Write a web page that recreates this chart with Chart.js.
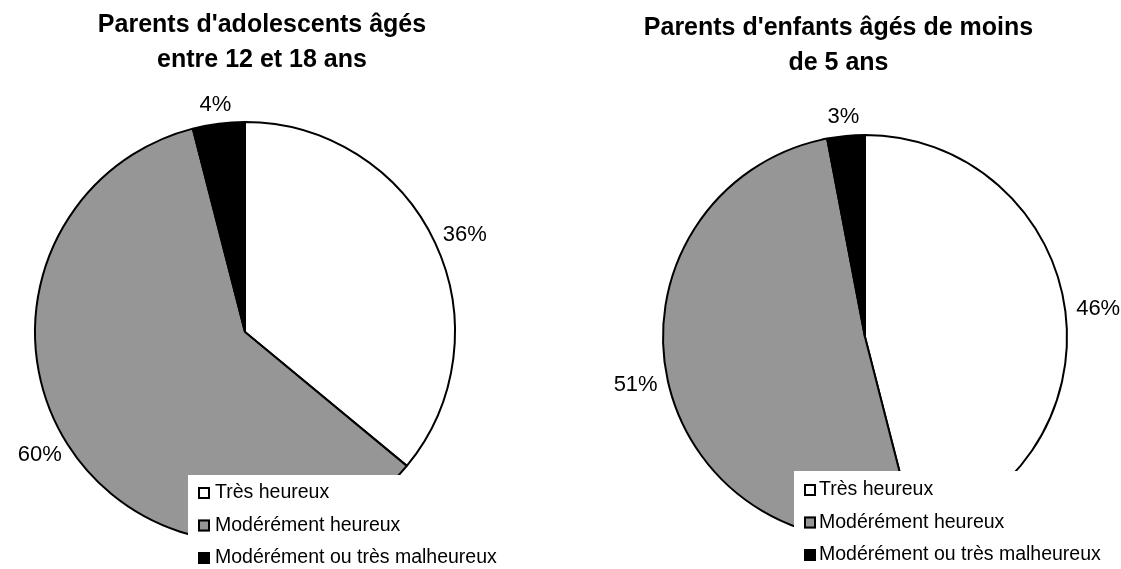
<!DOCTYPE html>
<html>
<head>
<meta charset="utf-8">
<script src="https://cdn.jsdelivr.net/npm/chart.js@4.4.0/dist/chart.umd.min.js"></script>
<style>
    html, body { margin: 0; padding: 0; background: #fff; }
    #wrap { position: relative; width: 1121px; height: 569px; overflow: hidden; }
    .pane { position: absolute; top: 0; height: 569px; }
</style>
</head>
<body>
<div id="wrap">
    <div class="pane" style="left:0;width:560px"><canvas id="teens"></canvas></div>
    <div class="pane" style="left:560px;width:561px"><canvas id="kids"></canvas></div>
</div>
<script>
const categories = ['Très heureux', 'Modérément heureux', 'Modérément ou très malheureux'];
const teenValues = [36, 60, 4];
const kidValues = [46, 51, 3];
const teenTitle = ["Parents d'adolescents âgés", 'entre 12 et 18 ans'];
const kidTitle = ["Parents d'enfants âgés de moins", 'de 5 ans'];
const sliceColors = ['#ffffff', '#969696', '#000000'];

const FONT = '"Liberation Sans", Arial, sans-serif';

// titles, outside labels and the overlaid legend box
const overlayPlugin = {
    id: 'overlay',
    afterDraw(chart, args, opts) {
        const ctx = chart.ctx;
        const meta = chart.getDatasetMeta(0);
        const values = chart.data.datasets[0].data;
        ctx.save();
        ctx.fillStyle = '#000';
        ctx.textAlign = 'center';
        ctx.textBaseline = 'middle';

        // slice labels
        ctx.font = '22px ' + FONT;
        meta.data.forEach(function(arc, i) {
            const p = arc.getProps(['x', 'y', 'startAngle', 'endAngle', 'outerRadius'], true);
            const mid = (p.startAngle + p.endAngle) / 2;
            const ux = Math.cos(mid), uy = Math.sin(mid);
            const text = values[i] + '%';
            const w = ctx.measureText(text).width;
            const d = p.outerRadius + opts.labelGap;
            ctx.fillText(text, p.x + ux * (d + w / 2), p.y + uy * (d + 8));
        });

        // title
        ctx.font = 'bold 25px ' + FONT;
        opts.title.forEach(function(line, i) {
            ctx.fillText(line, opts.titleX, opts.titleY + i * opts.titleStep);
        });

        // legend
        const lg = opts.legend;
        ctx.fillStyle = '#fff';
        ctx.fillRect(lg.x, lg.y, chart.width - lg.x, chart.height - lg.y);
        ctx.font = '19.5px ' + FONT;
        ctx.textAlign = 'left';
        chart.data.labels.forEach(function(label, i) {
            const cy = lg.firstY + i * lg.step;
            ctx.fillStyle = sliceColors[i];
            ctx.fillRect(lg.boxX, cy - 6, 12, 12);
            ctx.strokeStyle = '#000';
            ctx.lineWidth = 2;
            ctx.strokeRect(lg.boxX + 1, cy - 5, 10, 10);
            ctx.fillStyle = '#000';
            ctx.fillText(label, lg.textX, cy);
        });
        ctx.restore();
    }
};

function makePie(id, values, padding, overlay) {
    return new Chart(document.getElementById(id), {
        type: 'pie',
        data: {
            labels: categories,
            datasets: [{
                data: values,
                backgroundColor: sliceColors,
                borderColor: '#000',
                borderWidth: 2
            }]
        },
        options: {
            responsive: true,
            maintainAspectRatio: false,
            animation: false,
            layout: { padding: padding },
            plugins: {
                legend: { display: false },
                title: { display: false },
                tooltip: { enabled: false },
                overlay: overlay
            }
        },
        plugins: [overlayPlugin]
    });
}

makePie('teens', teenValues, { left: 34, right: 104, top: 121, bottom: 26 }, {
    labelGap: 11,
    title: teenTitle,
    titleX: 262,
    titleY: 25,
    titleStep: 35,
    legend: { x: 188, y: 475, boxX: 198, textX: 215, firstY: 493, step: 32.5 }
});

makePie('kids', kidValues, { left: 102, right: 53, top: 134, bottom: 29 }, {
    labelGap: 11,
    title: kidTitle,
    titleX: 278.5,
    titleY: 28,
    titleStep: 35,
    legend: { x: 234, y: 471, boxX: 244, textX: 259, firstY: 490, step: 32.5 }
});
</script>
</body>
</html>
